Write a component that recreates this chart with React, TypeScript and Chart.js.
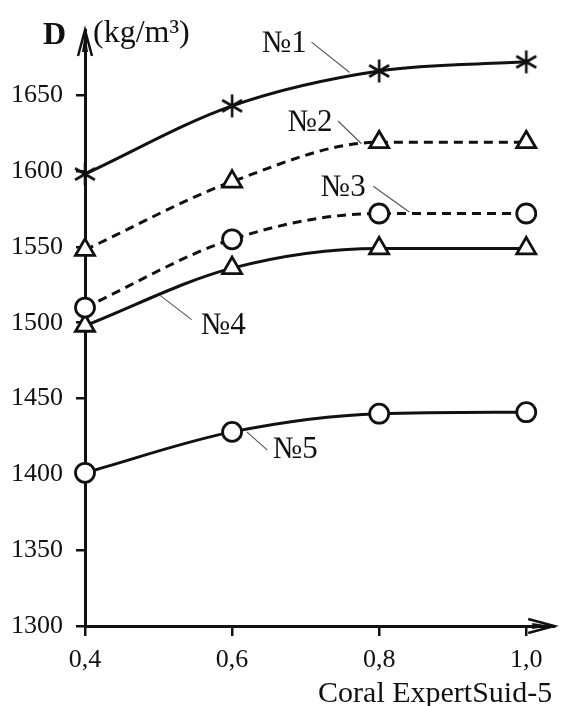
import React, { useEffect, useRef } from 'react';
import { Chart, registerables } from 'chart.js';
Chart.register(...registerables);

// ---- data ----
const xValues = [0.4, 0.6, 0.8, 1.0];
const xTickValues = [0.4, 0.6, 0.8, 1.0];
const yTickValues = [1300, 1350, 1400, 1450, 1500, 1550, 1600, 1650];
const series1 = [1598, 1643, 1666, 1672];
const series2 = [1548, 1593, 1619, 1619];
const series3 = [1510, 1555, 1572, 1572];
const series4 = [1498, 1536, 1549, 1549];
const series5 = [1401, 1428, 1440, 1441];
const seriesNames = ['№1', '№2', '№3', '№4', '№5'];
// label anchor (data units) and leader line ends (data units)
const labelX = [0.671, 0.706, 0.751, 0.588, 0.686];
const labelY = [1684, 1632, 1589, 1498, 1416];
const leaderX1 = [0.708, 0.744, 0.792, 0.545, 0.648];
const leaderY1 = [1685, 1633, 1590, 1502, 1416];
const leaderX2 = [0.760, 0.776, 0.841, 0.502, 0.620];
const leaderY2 = [1665, 1618, 1573, 1518, 1428];
const xTitle = 'Coral ExpertSuid-5';
const yTitleBold = 'D';
const yTitleUnit = '(kg/m³)';

const FONT = '"Liberation Serif", "Times New Roman", serif';
const INK = '#111';

function makeAsterisk(): HTMLCanvasElement {
  const c = document.createElement('canvas');
  c.width = 28;
  c.height = 28;
  const g = c.getContext('2d')!;
  g.strokeStyle = INK;
  g.lineWidth = 2.6;
  g.lineCap = 'butt';
  const r = 11.5;
  [90, 30, 150].forEach((deg) => {
    const a = (deg * Math.PI) / 180;
    g.beginPath();
    g.moveTo(14 - Math.cos(a) * r, 14 - Math.sin(a) * r);
    g.lineTo(14 + Math.cos(a) * r, 14 + Math.sin(a) * r);
    g.stroke();
  });
  return c;
}

const overlayPlugin = {
  id: 'overlay',
  afterDatasetsDraw(chart: any) {
    const { ctx, scales } = chart;
    const xs = scales.x;
    const ys = scales.y;
    ctx.save();
    // leader lines
    ctx.strokeStyle = '#555';
    ctx.lineWidth = 1.1;
    for (let i = 0; i < seriesNames.length; i++) {
      ctx.beginPath();
      ctx.moveTo(xs.getPixelForValue(leaderX1[i]), ys.getPixelForValue(leaderY1[i]));
      ctx.lineTo(xs.getPixelForValue(leaderX2[i]), ys.getPixelForValue(leaderY2[i]));
      ctx.stroke();
    }
    // labels
    ctx.fillStyle = INK;
    ctx.font = `31px ${FONT}`;
    ctx.textAlign = 'center';
    ctx.textBaseline = 'middle';
    for (let i = 0; i < seriesNames.length; i++) {
      ctx.fillText(seriesNames[i], xs.getPixelForValue(labelX[i]), ys.getPixelForValue(labelY[i]));
    }
    // arrows
    const ca = chart.chartArea;
    ctx.fillStyle = INK;
    ctx.strokeStyle = INK;
    ctx.lineWidth = 2.5;
    ctx.lineJoin = 'miter';
    // y arrow
    ctx.beginPath();
    ctx.moveTo(ca.left - 7, ca.top + 26);
    ctx.lineTo(ca.left, ca.top);
    ctx.lineTo(ca.left + 7, ca.top + 26);
    ctx.stroke();
    ctx.beginPath();
    ctx.moveTo(ca.left - 3, ca.top + 22);
    ctx.lineTo(ca.left, ca.top + 2);
    ctx.lineTo(ca.left + 3, ca.top + 22);
    ctx.closePath();
    ctx.fill();
    // x arrow
    ctx.beginPath();
    ctx.moveTo(ca.right - 26, ca.bottom - 7);
    ctx.lineTo(ca.right, ca.bottom);
    ctx.lineTo(ca.right - 26, ca.bottom + 7);
    ctx.stroke();
    ctx.beginPath();
    ctx.moveTo(ca.right - 22, ca.bottom - 3);
    ctx.lineTo(ca.right - 2, ca.bottom);
    ctx.lineTo(ca.right - 22, ca.bottom + 3);
    ctx.closePath();
    ctx.fill();
    // titles
    ctx.textBaseline = 'alphabetic';
    ctx.textAlign = 'left';
    ctx.font = `bold 32px ${FONT}`;
    ctx.fillText(yTitleBold, ca.left - 42, ca.top + 14);
    ctx.font = `32px ${FONT}`;
    ctx.fillText(yTitleUnit, ca.left + 8, ca.top + 12);
    ctx.textAlign = 'right';
    ctx.font = `30px ${FONT}`;
    ctx.fillText(xTitle, ca.right - 2, ca.bottom + 76);
    ctx.restore();
  },
};

export default function App() {
  const ref = useRef<HTMLCanvasElement | null>(null);
  useEffect(() => {
    const canvas = ref.current;
    if (!canvas) return;
    const asterisk = makeAsterisk();
    const mk = (data: number[], style: any, dashed: boolean, radius: number) => ({
      data: xValues.map((x, i) => ({ x, y: data[i] })),
      borderColor: INK,
      borderWidth: 3,
      borderDash: dashed ? [9, 6] : [],
      cubicInterpolationMode: 'monotone',
      pointStyle: style,
      pointRadius: radius,
      pointBackgroundColor: '#fff',
      pointBorderColor: INK,
      pointBorderWidth: 2.8,
      fill: false,
      clip: false,
    });
    const chart = new Chart(canvas, {
      type: 'line',
      data: {
        datasets: [
          mk(series1, asterisk, false, 11),
          mk(series2, 'triangle', true, 11),
          mk(series3, 'circle', true, 9.5),
          mk(series4, 'triangle', false, 11),
          mk(series5, 'circle', false, 9.5),
        ] as any,
      },
      options: {
        animation: false,
        responsive: false,
        maintainAspectRatio: false,
        layout: { padding: { left: 0, right: 13, top: 30, bottom: 0 } },
        plugins: { legend: { display: false }, tooltip: { enabled: false } },
        events: [],
        scales: {
          x: {
            type: 'linear',
            min: 0.4,
            max: 1.038,
            afterBuildTicks: (s: any) => {
              s.ticks = xTickValues.map((v) => ({ value: v }));
            },
            afterFit: (s: any) => {
              s.height = 80;
            },
            border: { display: true, color: INK, width: 3 },
            grid: { drawOnChartArea: false, drawTicks: true, tickLength: 10, color: INK, lineWidth: 2.5 },
            ticks: {
              color: INK,
              padding: 9,
              font: { family: FONT, size: 26 },
              callback: (v: any) => Number(v).toFixed(1).replace('.', ','),
            },
          },
          y: {
            type: 'linear',
            min: 1300,
            max: 1693,
            afterBuildTicks: (s: any) => {
              s.ticks = yTickValues.map((v) => ({ value: v }));
            },
            afterFit: (s: any) => {
              s.width = 85;
            },
            border: { display: true, color: INK, width: 3 },
            grid: { drawOnChartArea: false, drawTicks: true, tickLength: 9, color: INK, lineWidth: 2.5 },
            ticks: {
              color: INK,
              padding: 13,
              font: { family: FONT, size: 26 },
              callback: (v: any) => String(v),
            },
          },
        },
      } as any,
      plugins: [overlayPlugin],
    });
    return () => chart.destroy();
  }, []);
  return (
    <div style={{ position: 'fixed', left: 0, top: 0, width: 568, height: 706, background: '#fff' }}>
      <canvas ref={ref} width={568} height={706} style={{ width: 568, height: 706, display: 'block' }} />
    </div>
  );
}
